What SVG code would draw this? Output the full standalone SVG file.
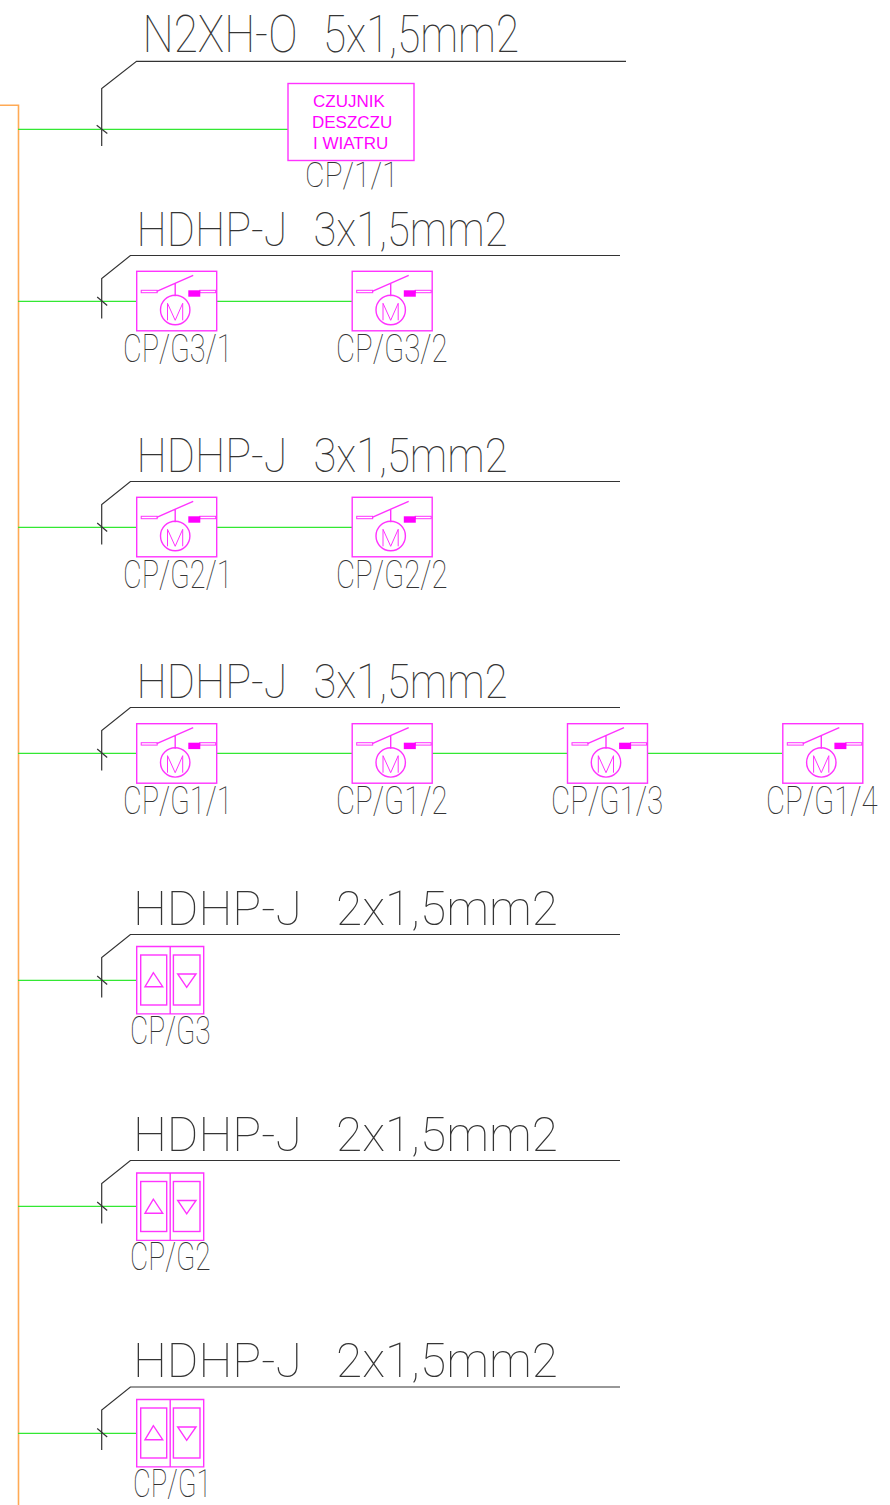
<svg xmlns="http://www.w3.org/2000/svg" width="890" height="1505" viewBox="0 0 890 1505">
<style>
.bg{fill:#fff}
.bus{fill:none;stroke:#ffaa55;stroke-width:1.6}
.w{fill:none;stroke:#33e833;stroke-width:1.3}
.k{fill:none;stroke:#333;stroke-width:1.2}
.m{fill:none;stroke:#ff33ff;stroke-width:1.4}
.mf{fill:#ff00ff}
.mt{fill:none;stroke:#ff33ff;stroke-width:1}
text{font-family:"Roboto","Liberation Sans",sans-serif;font-weight:100;fill:#333;opacity:.99}
.t1{font-size:52px}
.t{font-size:49px}
.l{font-size:39px}
.s{font-size:36px}
.p{font-family:"Liberation Sans",Arial,sans-serif;font-weight:400;font-size:17px;fill:#ff00ff}
</style>
<defs>
<g id="act">
<rect class="m" x="0" y="0" width="80" height="59.500"/>
<rect class="mt" x="4.500" y="19" width="16" height="2.400"/>
<rect class="mt" x="63" y="19" width="16" height="2.400"/>
<path class="m" d="M20 20L56.500 4M38.500 12V25"/>
<rect class="mf" x="51.600" y="19" width="12" height="6.400"/>
<circle class="m" cx="38.500" cy="38.700" r="14.700"/>
<path class="mt" d="M30.800 49V32L38.500 49L46 32V49"/>
</g>
<g id="btn">
<path class="m" d="M0 0H67V67.400H0ZM33.500 0V67.400"/>
<rect class="m" x="4" y="8.500" width="26" height="50"/>
<rect class="m" x="36.700" y="8.500" width="26.600" height="50"/>
<path class="m" d="M16.700 26.200L8.300 40.200H26ZM41 27.500H59.300L50 40.800Z"/>
</g>
<g id="tap">
<path class="k" d="M518.300 0H28.700L0 23V63"/>
<path class="k" d="M-4.500 41.500L5.500 50"/>
</g>
</defs>
<rect class="bg" width="890" height="1505"/>
<g id="connectors">
<path class="bus" d="M0 105.200H18.500V1505"/>
<path class="w" d="M18 129.300H288"/>
<path class="w" d="M18 301.300H137M217 301.300H352"/>
<path class="w" d="M18 527.300H137M217 527.300H352"/>
<path class="w" d="M18 753.300H137M217 753.300H352M432 753.300H567M647 753.300H782"/>
<path class="w" d="M18 980.300H137M18 1206.300H137M18 1433.300H137"/>
<path class="k" d="M626 61.300H136.500L101.700 88.500V146"/>
<path class="k" d="M96.700 125.300L107.300 133.500"/>
<use href="#tap" x="101.700" y="255.500"/>
<use href="#tap" x="101.700" y="481.500"/>
<use href="#tap" x="101.700" y="707.500"/>
<use href="#tap" x="101.700" y="934.500"/>
<use href="#tap" x="101.700" y="1160.500"/>
<use href="#tap" x="101.700" y="1387"/>
</g>
<text class="t1" y="52"><tspan x="142.500" textLength="155" lengthAdjust="spacingAndGlyphs">N2XH-O</tspan> <tspan x="323" textLength="196" lengthAdjust="spacingAndGlyphs">5x1,5mm2</tspan></text>
<text class="t" y="246"><tspan x="136.500" textLength="151" lengthAdjust="spacingAndGlyphs">HDHP-J</tspan> <tspan x="313.500" textLength="194" lengthAdjust="spacingAndGlyphs">3x1,5mm2</tspan></text>
<text class="t" y="472"><tspan x="136.500" textLength="151" lengthAdjust="spacingAndGlyphs">HDHP-J</tspan> <tspan x="313.500" textLength="194" lengthAdjust="spacingAndGlyphs">3x1,5mm2</tspan></text>
<text class="t" y="698"><tspan x="136.500" textLength="151" lengthAdjust="spacingAndGlyphs">HDHP-J</tspan> <tspan x="313.500" textLength="194" lengthAdjust="spacingAndGlyphs">3x1,5mm2</tspan></text>
<text class="t" y="925"><tspan x="133" textLength="169" lengthAdjust="spacingAndGlyphs">HDHP-J</tspan> <tspan x="336" textLength="222" lengthAdjust="spacingAndGlyphs">2x1,5mm2</tspan></text>
<text class="t" y="1151"><tspan x="133" textLength="169" lengthAdjust="spacingAndGlyphs">HDHP-J</tspan> <tspan x="336" textLength="222" lengthAdjust="spacingAndGlyphs">2x1,5mm2</tspan></text>
<text class="t" y="1377"><tspan x="133" textLength="169" lengthAdjust="spacingAndGlyphs">HDHP-J</tspan> <tspan x="336" textLength="222" lengthAdjust="spacingAndGlyphs">2x1,5mm2</tspan></text>
<g id="n-cp11"><rect class="m" x="288" y="83.500" width="126" height="77"/>
<text class="p" x="313" y="106.500">CZUJNIK</text><text class="p" x="312" y="128">DESZCZU</text><text class="p" x="313" y="149">I WIATRU</text>
<text class="s" transform="translate(305 187) scale(.72 1)" textLength="130" lengthAdjust="spacingAndGlyphs">CP/1/1</text></g>
<g id="n-g31"><use href="#act" x="136.700" y="271.300"/><text class="l" transform="translate(123 362) scale(.72 1)" textLength="152" lengthAdjust="spacingAndGlyphs">CP/G3/1</text></g>
<g id="n-g32"><use href="#act" x="352.200" y="271.300"/><text class="l" transform="translate(336 362) scale(.72 1)" textLength="155" lengthAdjust="spacingAndGlyphs">CP/G3/2</text></g>
<g id="n-g21"><use href="#act" x="136.700" y="497.300"/><text class="l" transform="translate(123 588) scale(.72 1)" textLength="152" lengthAdjust="spacingAndGlyphs">CP/G2/1</text></g>
<g id="n-g22"><use href="#act" x="352.200" y="497.300"/><text class="l" transform="translate(336 588) scale(.72 1)" textLength="155" lengthAdjust="spacingAndGlyphs">CP/G2/2</text></g>
<g id="n-g11"><use href="#act" x="136.700" y="723.700"/><text class="l" transform="translate(123 814) scale(.72 1)" textLength="152" lengthAdjust="spacingAndGlyphs">CP/G1/1</text></g>
<g id="n-g12"><use href="#act" x="352.200" y="723.700"/><text class="l" transform="translate(336 814) scale(.72 1)" textLength="155" lengthAdjust="spacingAndGlyphs">CP/G1/2</text></g>
<g id="n-g13"><use href="#act" x="567.500" y="723.700"/><text class="l" transform="translate(551 814) scale(.72 1)" textLength="156" lengthAdjust="spacingAndGlyphs">CP/G1/3</text></g>
<g id="n-g14"><use href="#act" x="782.800" y="723.700"/><text class="l" transform="translate(766 814) scale(.72 1)" textLength="155" lengthAdjust="spacingAndGlyphs">CP/G1/4</text></g>
<g id="n-g3"><use href="#btn" x="136.700" y="946.500"/><text class="l" transform="translate(130 1044) scale(.72 1)" textLength="112" lengthAdjust="spacingAndGlyphs">CP/G3</text></g>
<g id="n-g2"><use href="#btn" x="136.700" y="1173"/><text class="l" transform="translate(130 1270) scale(.72 1)" textLength="112" lengthAdjust="spacingAndGlyphs">CP/G2</text></g>
<g id="n-g1"><use href="#btn" x="136.700" y="1399.500"/><text class="l" transform="translate(133 1497) scale(.72 1)" textLength="109" lengthAdjust="spacingAndGlyphs">CP/G1</text></g>
</svg>
